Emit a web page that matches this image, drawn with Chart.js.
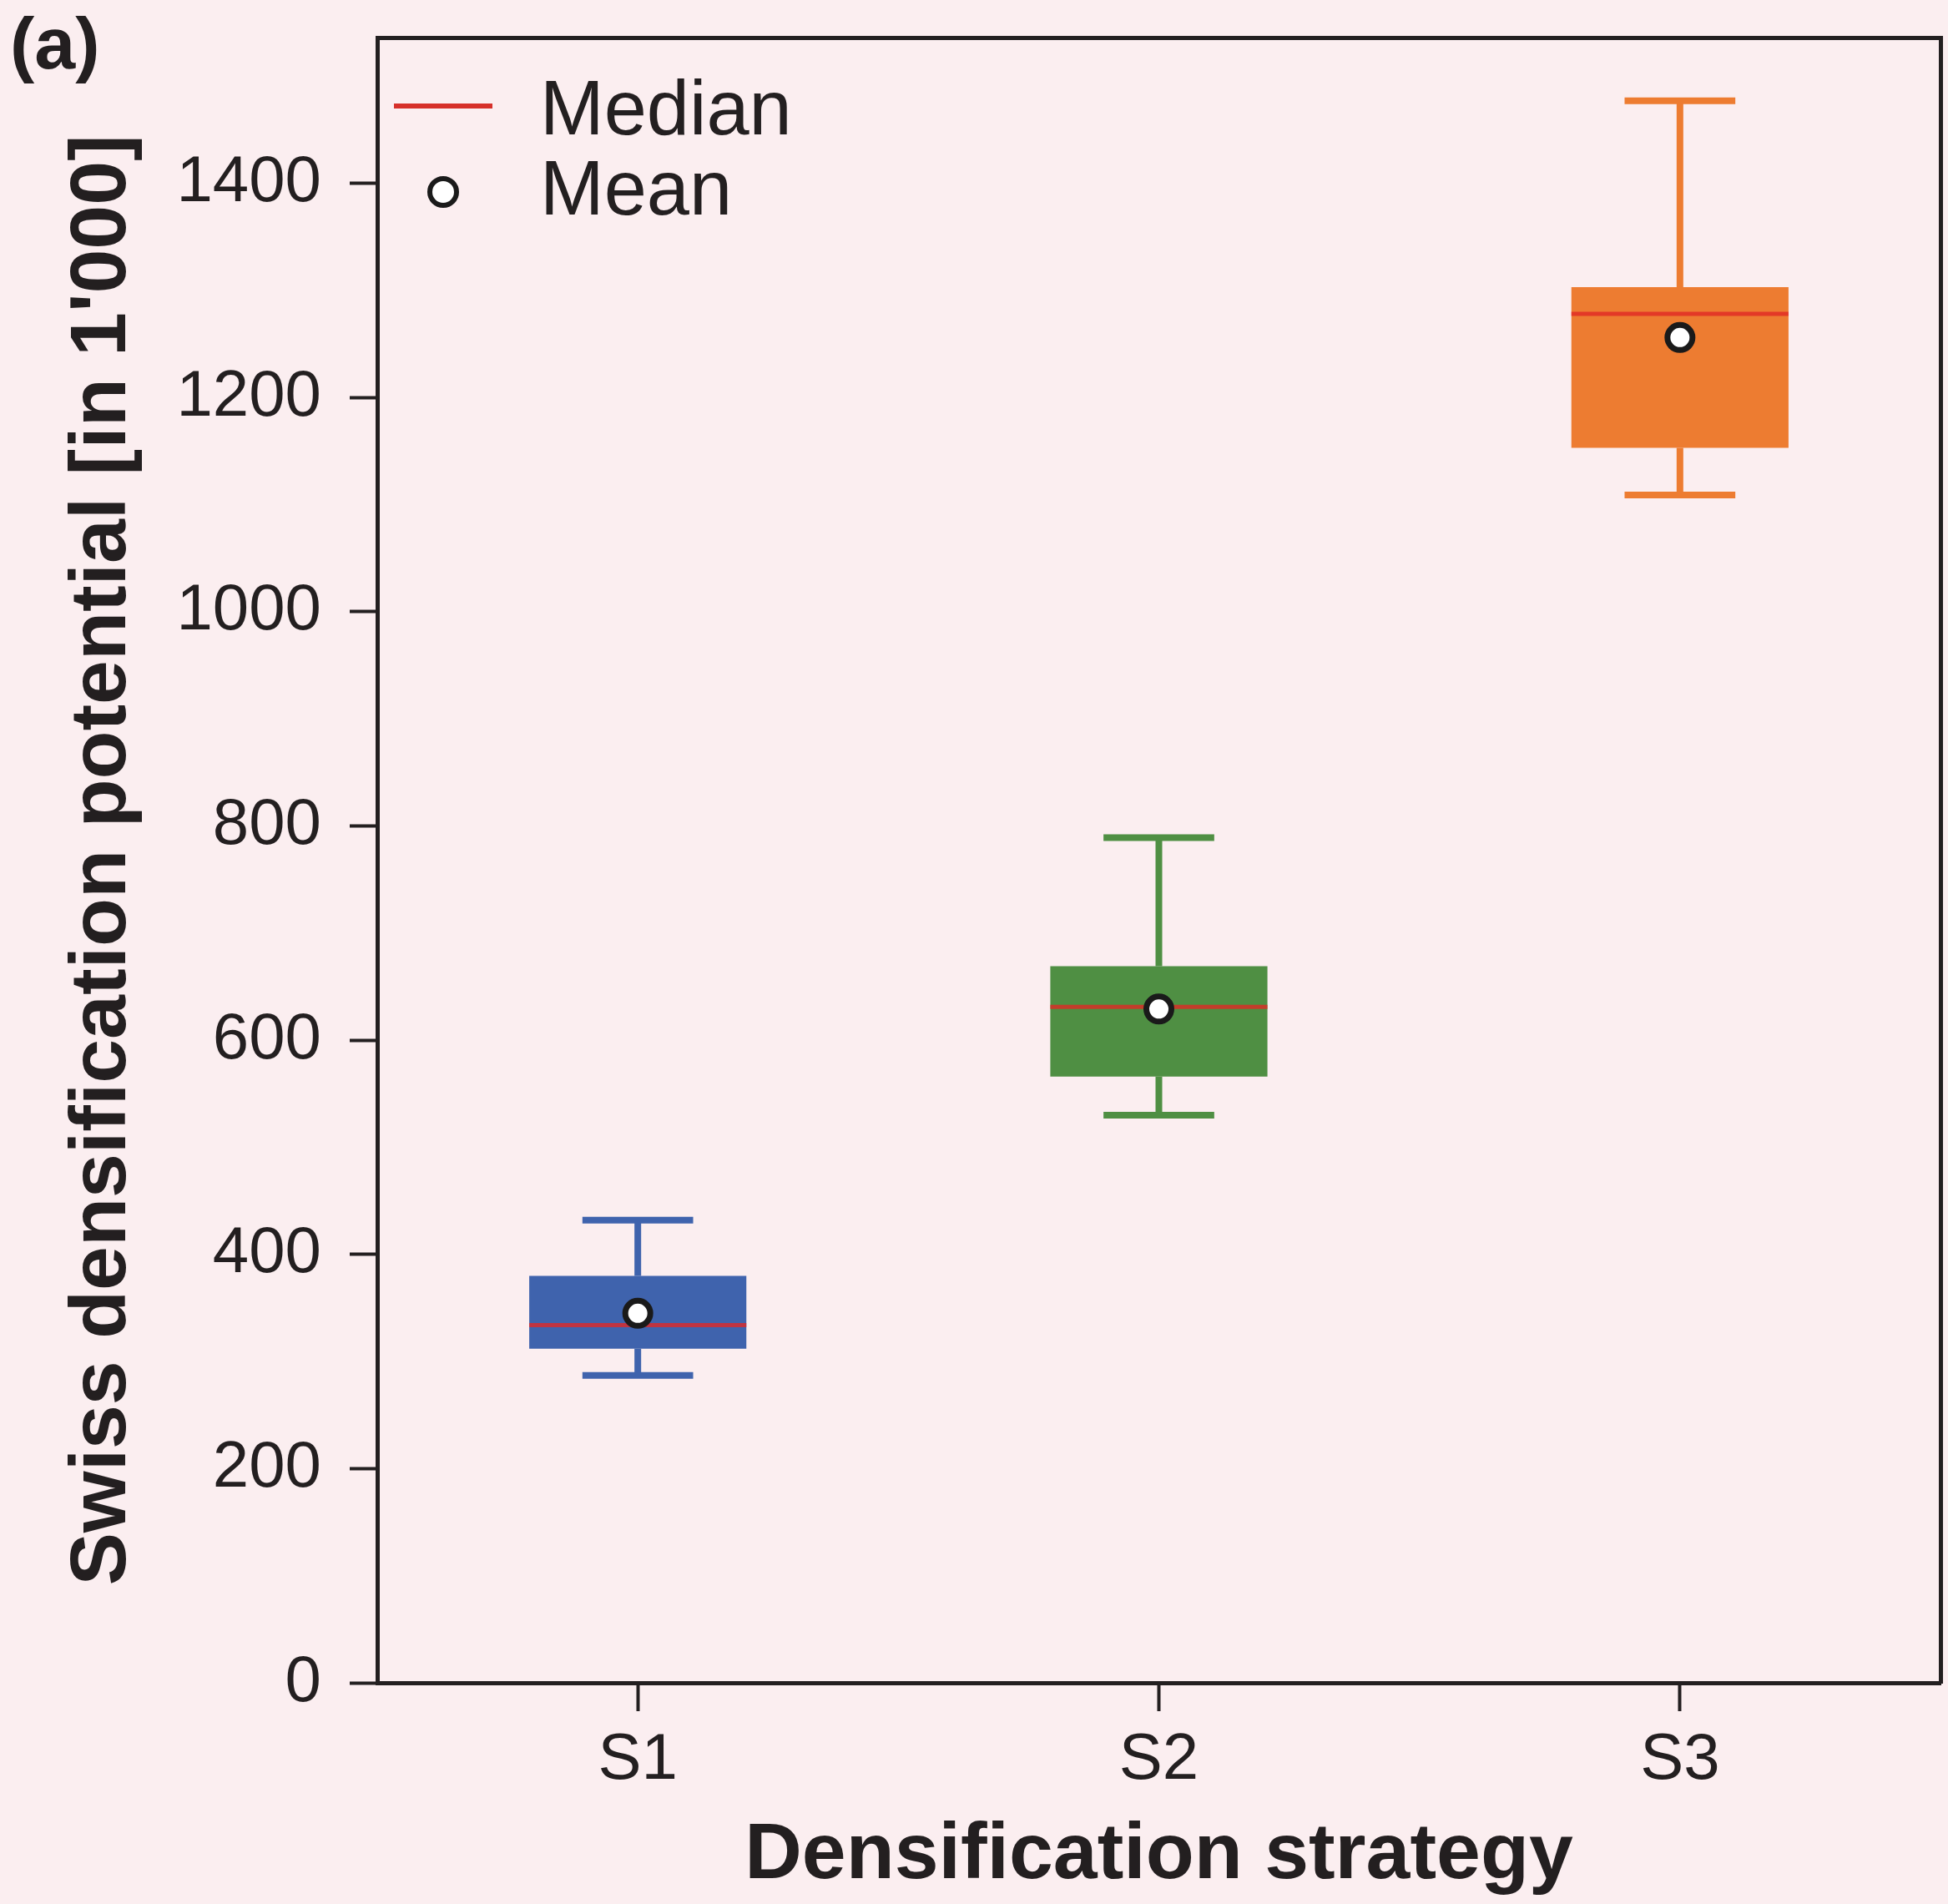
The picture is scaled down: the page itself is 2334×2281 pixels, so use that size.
<!DOCTYPE html>
<html>
<head>
<meta charset="utf-8">
<script src="https://cdn.jsdelivr.net/npm/chart.js@4.4.1/dist/chart.umd.min.js"></script>
<style>
  html, body { margin: 0; padding: 0; background: #fbeef0; }
  canvas { display: block; }
</style>
</head>
<body>
<canvas id="chart" width="2334" height="2281"></canvas>
<script>
// Densification potential per strategy, in thousands
const categories = ['S1', 'S2', 'S3'];
const whiskerLow  = [287, 530, 1109];
const quartile1   = [312, 566, 1153];
const medians     = [334, 631, 1278];
const quartile3   = [380, 669, 1303];
const whiskerHigh = [432, 789, 1477];
const means       = [345, 629, 1256];
const yTickValues = [0, 200, 400, 600, 800, 1000, 1200, 1400];

const boxColors = ['#3f63ad', '#4f8f43', '#ed7c31'];
const ink = '#231f20';
const fontFamily = "'Liberation Sans', Arial, Helvetica, sans-serif";

// Whiskers, caps and median lines drawn over each box through the chart scales
const boxWhiskers = {
  id: 'boxWhiskers',
  afterDatasetDraw(chart, args) {
    if (args.meta.type !== 'bar') return;
    const ctx = chart.ctx;
    const y = chart.scales.y;
    args.meta.data.forEach((bar, i) => {
      const cx = bar.x;
      const w = bar.width;
      const capHalf = w * 0.255;
      ctx.save();
      ctx.strokeStyle = boxColors[i];
      ctx.lineWidth = 8;
      ctx.lineCap = 'butt';
      ctx.beginPath();
      ctx.moveTo(cx, y.getPixelForValue(quartile3[i]));
      ctx.lineTo(cx, y.getPixelForValue(whiskerHigh[i]));
      ctx.moveTo(cx, y.getPixelForValue(quartile1[i]));
      ctx.lineTo(cx, y.getPixelForValue(whiskerLow[i]));
      ctx.moveTo(cx - capHalf, y.getPixelForValue(whiskerHigh[i]));
      ctx.lineTo(cx + capHalf, y.getPixelForValue(whiskerHigh[i]));
      ctx.moveTo(cx - capHalf, y.getPixelForValue(whiskerLow[i]));
      ctx.lineTo(cx + capHalf, y.getPixelForValue(whiskerLow[i]));
      ctx.stroke();
      ctx.strokeStyle = 'rgba(224, 40, 38, 0.8)';
      ctx.lineWidth = 5;
      ctx.beginPath();
      ctx.moveTo(cx - w / 2, y.getPixelForValue(medians[i]));
      ctx.lineTo(cx + w / 2, y.getPixelForValue(medians[i]));
      ctx.stroke();
      ctx.restore();
    });
  }
};

// Legend inside the plot and the panel tag
const panelDecor = {
  id: 'panelDecor',
  afterDraw(chart) {
    const ctx = chart.ctx;
    const a = chart.chartArea;
    ctx.save();
    // median key
    ctx.strokeStyle = '#d6302a';
    ctx.lineWidth = 6;
    ctx.beginPath();
    ctx.moveTo(a.left + 20, a.top + 82);
    ctx.lineTo(a.left + 138, a.top + 82);
    ctx.stroke();
    // mean key
    ctx.beginPath();
    ctx.arc(a.left + 79, a.top + 185, 16, 0, Math.PI * 2);
    ctx.fillStyle = '#ffffff';
    ctx.fill();
    ctx.lineWidth = 6;
    ctx.strokeStyle = '#1a1a1a';
    ctx.stroke();
    // key labels
    ctx.fillStyle = ink;
    ctx.font = '92px ' + fontFamily;
    ctx.textAlign = 'left';
    ctx.textBaseline = 'middle';
    ctx.fillText('Median', a.left + 195, a.top + 91);
    ctx.fillText('Mean', a.left + 195, a.top + 187);
    // panel tag
    ctx.font = 'bold 88px ' + fontFamily;
    ctx.textBaseline = 'alphabetic';
    ctx.fillText('(a)', 12, 82);
    ctx.restore();
  }
};

// Fixed axis boxes so the plot frame sits where it should
function fixSize(prop, size) {
  return function (scale) {
    scale[prop] = size;
    scale.paddingTop = 0;
    scale.paddingBottom = 0;
    scale.paddingLeft = 0;
    scale.paddingRight = 0;
  };
}

new Chart(document.getElementById('chart'), {
  type: 'bar',
  data: {
    labels: categories,
    datasets: [
      {
        type: 'line',
        label: 'Mean',
        data: means,
        showLine: false,
        pointRadius: 15,
        pointHoverRadius: 15,
        pointBorderWidth: 7,
        pointBackgroundColor: '#ffffff',
        pointBorderColor: '#1a1a1a',
        order: 0
      },
      {
        type: 'bar',
        label: 'IQR',
        data: categories.map((_, i) => [quartile1[i], quartile3[i]]),
        backgroundColor: boxColors,
        borderWidth: 0,
        barPercentage: 0.4167,
        categoryPercentage: 1,
        order: 1
      }
    ]
  },
  options: {
    responsive: false,
    devicePixelRatio: 1,
    animation: false,
    layout: { autoPadding: false, padding: { top: 45, right: 9, left: 0, bottom: 0 } },
    plugins: {
      legend: { display: false },
      tooltip: { enabled: false }
    },
    scales: {
      x: {
        type: 'category',
        position: 'bottom',
        offset: true,
        grid: {
          display: true,
          offset: false,
          drawOnChartArea: false,
          drawTicks: true,
          tickLength: 34,
          tickWidth: 4,
          tickColor: ink
        },
        border: { display: true, color: ink, width: 5 },
        ticks: {
          color: ink,
          padding: 13,
          maxRotation: 0,
          autoSkip: false,
          font: { family: fontFamily, size: 78 }
        },
        title: {
          display: true,
          text: 'Densification strategy',
          color: ink,
          font: { family: fontFamily, size: 95, weight: 'bold' },
          padding: { top: 0, bottom: 0 }
        },
        afterFit: fixSize('height', 265)
      },
      xTop: {
        type: 'category',
        position: 'top',
        offset: true,
        grid: { display: false },
        ticks: { display: false },
        border: { display: true, color: ink, width: 5 },
        afterFit: fixSize('height', 0)
      },
      y: {
        type: 'linear',
        position: 'left',
        min: 0,
        max: 1536,
        afterBuildTicks(scale) { scale.ticks = yTickValues.map(v => ({ value: v })); },
        grid: {
          display: true,
          drawOnChartArea: false,
          drawTicks: true,
          tickLength: 33,
          tickWidth: 4,
          tickColor: ink
        },
        border: { display: true, color: ink, width: 5 },
        ticks: {
          color: ink,
          padding: 34,
          font: { family: fontFamily, size: 78 },
          callback: (value) => String(value)
        },
        title: {
          display: true,
          text: "Swiss densification potential [in 1'000]",
          color: ink,
          font: { family: fontFamily, size: 95, weight: 'bold' },
          padding: { top: 67, bottom: 0 }
        },
        afterFit: fixSize('width', 452)
      },
      yRight: {
        type: 'linear',
        position: 'right',
        min: 0,
        max: 1536,
        grid: { display: false },
        ticks: { display: false },
        border: { display: true, color: ink, width: 5 },
        afterFit: fixSize('width', 0)
      }
    }
  },
  plugins: [boxWhiskers, panelDecor]
});
</script>
</body>
</html>
